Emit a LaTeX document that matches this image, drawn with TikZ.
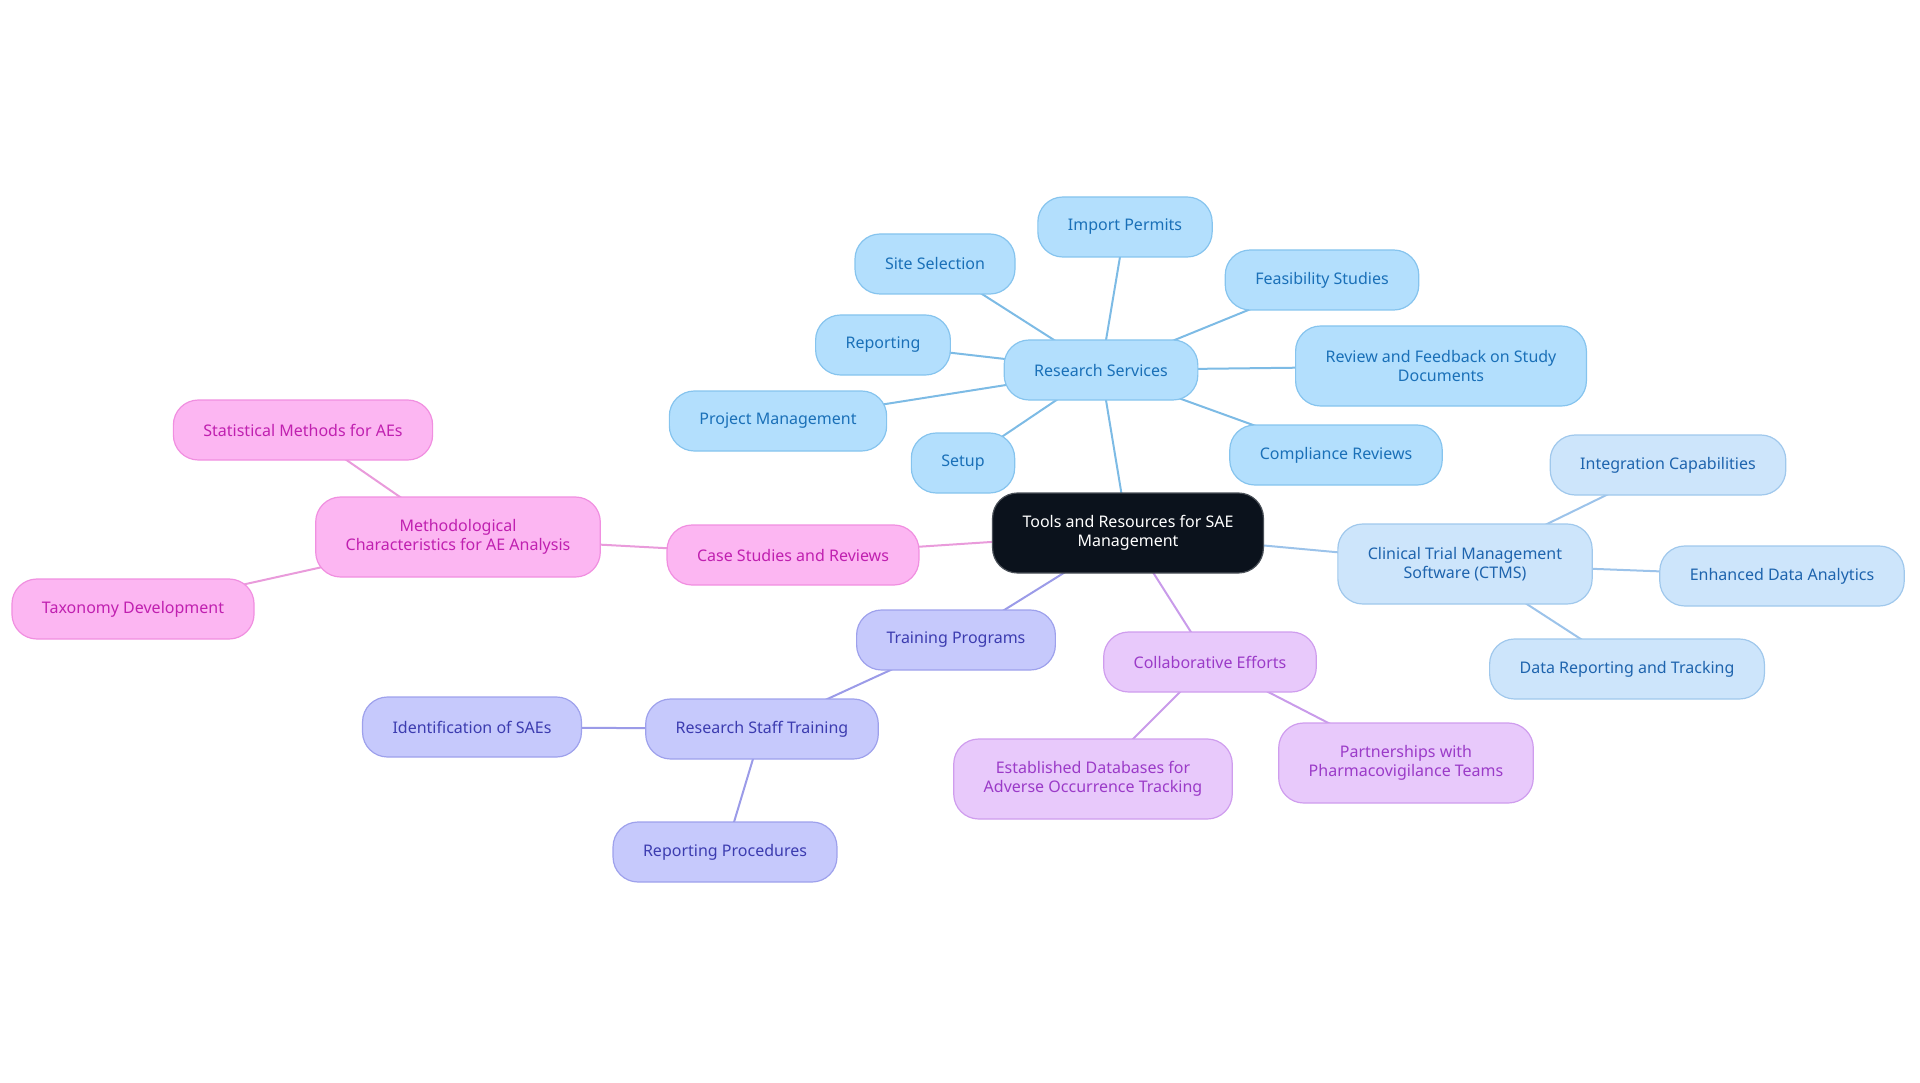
\documentclass[tikz,border=0pt]{standalone}
\usepackage{fontspec}
\setmainfont{Noto Sans}
\usetikzlibrary{backgrounds}
\definecolor{MapInk}{HTML}{0B121C}
\definecolor{MapInkLine}{HTML}{4A5058}
\definecolor{SvcFill}{HTML}{B3DFFD}
\definecolor{SvcLine}{HTML}{86C4EE}
\definecolor{SvcText}{HTML}{1A70B8}
\definecolor{SvcEdge}{HTML}{7DBBE5}
\definecolor{CtmsFill}{HTML}{CDE5FB}
\definecolor{CtmsLine}{HTML}{A0C8EC}
\definecolor{CtmsText}{HTML}{1E64AE}
\definecolor{CtmsEdge}{HTML}{9CC3EA}
\definecolor{CaseFill}{HTML}{FCB6F2}
\definecolor{CaseLine}{HTML}{F08FE0}
\definecolor{CaseText}{HTML}{C020B0}
\definecolor{CaseEdge}{HTML}{E99BDB}
\definecolor{TrainFill}{HTML}{C6C9FC}
\definecolor{TrainLine}{HTML}{9EA1EC}
\definecolor{TrainText}{HTML}{3C3CB0}
\definecolor{TrainEdge}{HTML}{9B9BE8}
\definecolor{CollabFill}{HTML}{E8C9FB}
\definecolor{CollabLine}{HTML}{CF9DEE}
\definecolor{CollabText}{HTML}{9B3BC8}
\definecolor{CollabEdge}{HTML}{C99BEA}
\tikzset{
  idea/.style={rounded corners=25pt, line width=1.2pt, minimum height=60pt,
               inner xsep=30pt, align=center, font=\fontsize{16}{18.5}\selectfont},
  tall/.style={minimum height=80pt},
  hub/.style={idea, tall, fill=MapInk, draw=MapInkLine, text=white},
  svc/.style={idea, fill=SvcFill, draw=SvcLine, text=SvcText},
  ctms/.style={idea, fill=CtmsFill, draw=CtmsLine, text=CtmsText},
  casestudy/.style={idea, fill=CaseFill, draw=CaseLine, text=CaseText},
  train/.style={idea, fill=TrainFill, draw=TrainLine, text=TrainText},
  collab/.style={idea, fill=CollabFill, draw=CollabLine, text=CollabText},
  svclink/.style={line width=2pt, draw=SvcEdge},
  ctmslink/.style={line width=2pt, draw=CtmsEdge},
  caselink/.style={line width=2pt, draw=CaseEdge},
  trainlink/.style={line width=2pt, draw=TrainEdge},
  collablink/.style={line width=2pt, draw=CollabEdge},
}
\begin{document}
\begin{tikzpicture}[x=1pt, y=-1pt]
  \useasboundingbox (0,0) rectangle (1920,1083);
  % centre
  \node[hub] (tools) at (1128,533) {Tools and Resources for SAE\\Management};
  % research services branch
  \node[svc] (services) at (1101,370) {Research Services};
  \node[svc] (permits) at (1125,227) {Import Permits};
  \node[svc] (sites) at (935,264) {Site Selection};
  \node[svc] (feasible) at (1322,280) {Feasibility Studies};
  \node[svc] (reporting) at (883,345) {Reporting};
  \node[svc,tall] (review) at (1441,366) {Review and Feedback on Study\\Documents};
  \node[svc] (project) at (778,421) {Project Management};
  \node[svc] (setup) at (963,463) {Setup};
  \node[svc] (comply) at (1336,455) {Compliance Reviews};
  % ctms branch
  \node[ctms,tall] (ctms) at (1465,564) {Clinical Trial Management\\Software (CTMS)};
  \node[ctms] (integrate) at (1668,465) {Integration Capabilities};
  \node[ctms] (analytics) at (1782,576) {Enhanced Data Analytics};
  \node[ctms] (tracking) at (1627,669) {Data Reporting and Tracking};
  % case studies branch
  \node[casestudy] (cases) at (793,555) {Case Studies and Reviews};
  \node[casestudy,tall] (methods) at (458,537) {Methodological\\Characteristics for AE Analysis};
  \node[casestudy] (stats) at (303,430) {Statistical Methods for AEs};
  \node[casestudy] (taxonomy) at (133,609) {Taxonomy Development};
  % training branch
  \node[train] (programs) at (956,640) {Training Programs};
  \node[train] (staff) at (762,729) {Research Staff Training};
  \node[train] (identify) at (472,727) {Identification of SAEs};
  \node[train] (procedures) at (725,852) {Reporting Procedures};
  % collaboration branch
  \node[collab] (efforts) at (1210,662) {Collaborative Efforts};
  \node[collab,tall] (databases) at (1093,779) {Established Databases for\\Adverse Occurrence Tracking};
  \node[collab,tall] (pharma) at (1406,763) {Partnerships with\\Pharmacovigilance Teams};
  \begin{scope}[on background layer]
    \draw[svclink] (tools.center) -- (services.center);
    \foreach \leaf in {permits,sites,feasible,reporting,review,project,setup,comply}
      \draw[svclink] (services.center) -- (\leaf.center);
    \draw[ctmslink] (tools.center) -- (ctms.center);
    \foreach \leaf in {integrate,analytics,tracking}
      \draw[ctmslink] (ctms.center) -- (\leaf.center);
    \draw[caselink] (tools.center) -- (cases.center);
    \draw[caselink] (cases.center) -- (methods.center);
    \foreach \leaf in {stats,taxonomy}
      \draw[caselink] (methods.center) -- (\leaf.center);
    \draw[trainlink] (tools.center) -- (programs.center);
    \draw[trainlink] (programs.center) -- (staff.center);
    \foreach \leaf in {identify,procedures}
      \draw[trainlink] (staff.center) -- (\leaf.center);
    \draw[collablink] (tools.center) -- (efforts.center);
    \foreach \leaf in {databases,pharma}
      \draw[collablink] (efforts.center) -- (\leaf.center);
  \end{scope}
\end{tikzpicture}
\end{document}
